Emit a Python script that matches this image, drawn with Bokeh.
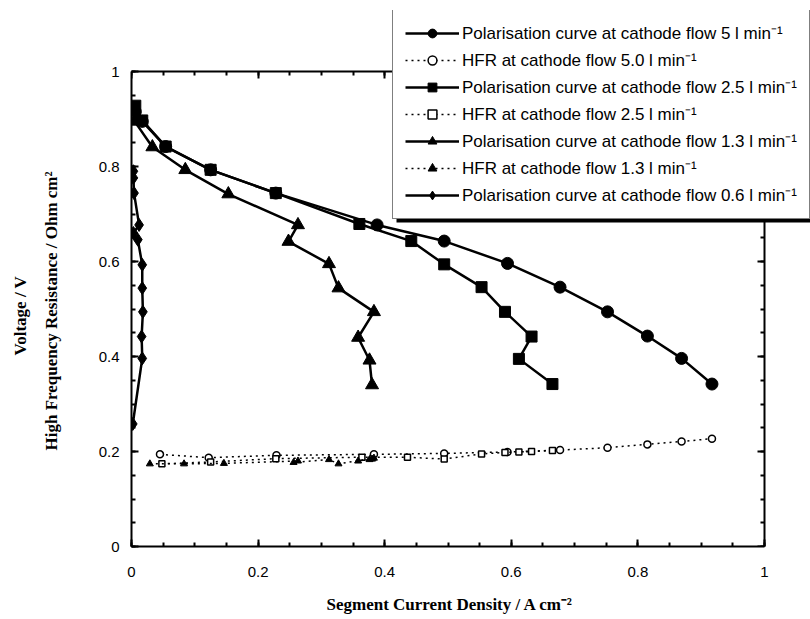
from bokeh.plotting import figure
from bokeh.models import (Legend, LegendItem, LinearAxis, FixedTicker, Range1d,
                          BoxAnnotation, Title)
from bokeh.embed import file_html
from bokeh.resources import INLINE

# ---------------- data ----------------
pol5_x = [0.006, 0.017, 0.054, 0.125, 0.228, 0.388, 0.494, 0.594, 0.677, 0.752, 0.815, 0.869, 0.917]
pol5_y = [0.915, 0.895, 0.842, 0.793, 0.744, 0.677, 0.643, 0.596, 0.546, 0.494, 0.443, 0.396, 0.342]

pol25_x = [0.006, 0.017, 0.054, 0.125, 0.228, 0.360, 0.442, 0.494, 0.553, 0.590, 0.632, 0.612, 0.665]
pol25_y = [0.928, 0.897, 0.842, 0.793, 0.744, 0.679, 0.643, 0.594, 0.546, 0.494, 0.442, 0.395, 0.342]

pol13_x = [0.005, 0.033, 0.085, 0.153, 0.263, 0.248, 0.312, 0.327, 0.383, 0.358, 0.376, 0.380]
pol13_y = [0.895, 0.841, 0.793, 0.742, 0.677, 0.642, 0.595, 0.544, 0.494, 0.440, 0.392, 0.340]

pol06_x = [0.003, 0.003, 0.004, 0.012, 0.003, 0.010, 0.017, 0.017, 0.018, 0.016, 0.017, 0.002]
pol06_y = [0.790, 0.776, 0.744, 0.677, 0.660, 0.646, 0.593, 0.544, 0.494, 0.442, 0.396, 0.258]

hfr5_x = [0.045, 0.122, 0.229, 0.383, 0.494, 0.594, 0.677, 0.752, 0.815, 0.869, 0.917]
hfr5_y = [0.194, 0.187, 0.192, 0.194, 0.196, 0.199, 0.203, 0.208, 0.215, 0.221, 0.227]

hfr25_x = [0.048, 0.125, 0.228, 0.364, 0.436, 0.494, 0.553, 0.590, 0.632, 0.612, 0.665]
hfr25_y = [0.174, 0.178, 0.185, 0.188, 0.188, 0.184, 0.195, 0.198, 0.200, 0.199, 0.202]

hfr13_x = [0.029, 0.083, 0.146, 0.263, 0.256, 0.312, 0.327, 0.383, 0.358, 0.376, 0.380]
hfr13_y = [0.174, 0.174, 0.175, 0.180, 0.177, 0.183, 0.174, 0.186, 0.180, 0.183, 0.184]

tick_values = [0, 0.2, 0.4, 0.6, 0.8, 1]
tick_labels = ["0", "0.2", "0.4", "0.6", "0.8", "1"]
minor_step = 0.05

x_title = "Segment Current Density / A cm\u207b\u00b2"
y_title_inner = "High Frequency Resistance / Ohm cm\u00b2"
y_title_outer = "Voltage / V"

labels = [
    "Polarisation curve at cathode flow 5 l min\u207b\u00b9",
    "HFR at cathode flow 5.0 l min\u207b\u00b9",
    "Polarisation curve at cathode flow 2.5 l min\u207b\u00b9",
    "HFR at cathode flow 2.5 l min\u207b\u00b9",
    "Polarisation curve at cathode flow 1.3 l min\u207b\u00b9",
    "HFR at cathode flow 1.3 l min\u207b\u00b9",
    "Polarisation curve at cathode flow 0.6 l min\u207b\u00b9",
]

# ---------------- layout (pixels) ----------------
W, H = 810, 619
FL, FR, FT, FB = 131, 810, 10, 546        # frame edges in canvas pixels
X0PX, X1PX = 131, 764                      # where x=0 and x=1 sit
Y0PX, Y1PX = 546, 71                       # where y=0 and y=1 sit
xmax = (FR - X0PX) / (X1PX - X0PX)
ymax = (Y0PX - FT) / (Y0PX - Y1PX)

p = figure(width=W, height=H, output_backend="svg", toolbar_location=None,
           x_range=Range1d(0, xmax), y_range=Range1d(0, ymax),
           min_border_left=FL, min_border_right=W - FR, min_border_top=FT,
           min_border_bottom=H - FB,
           x_axis_location=None, y_axis_location=None)
p.grid.visible = False
p.outline_line_color = None
p.background_fill_color = "white"
p.border_fill_color = "white"

sans = "Liberation Sans"
serif = "Liberation Serif"
minor = [round(i * minor_step, 2) for i in range(int(round(1 / minor_step)) + 1)]


def style_axis(ax, labels_on=True):
    ax.ticker = FixedTicker(ticks=tick_values, minor_ticks=minor)
    ax.bounds = (0, 1)
    ax.major_tick_in = 7
    ax.major_tick_out = 0
    ax.minor_tick_in = 4
    ax.minor_tick_out = 0
    ax.major_tick_line_width = 2
    ax.minor_tick_line_width = 2
    ax.major_tick_line_color = "black"
    ax.minor_tick_line_color = "black"
    ax.axis_line_width = 2
    ax.axis_line_color = "black"
    ax.major_label_text_font = sans
    ax.major_label_text_font_size = "15px"
    ax.major_label_text_color = "black"
    if labels_on:
        ax.major_label_overrides = {v: s for v, s in zip(tick_values, tick_labels)}
    else:
        ax.major_label_overrides = {v: "" for v in tick_values}
        ax.major_label_standoff = 0


def make_title(text, offset, standoff):
    t = Title(text=text, align="left", offset=offset, standoff=standoff)
    t.text_font = serif
    t.text_font_style = "bold"
    t.text_font_size = "17px"
    t.text_color = "black"
    return t


def spacer(width):
    # an axis with one invisible outward tick, used only to reserve room
    ax = LinearAxis(ticker=FixedTicker(ticks=[0.5], minor_ticks=[]))
    ax.axis_line_color = None
    ax.major_tick_line_color = "white"
    ax.major_tick_line_alpha = 0.0
    ax.minor_tick_line_color = None
    ax.major_tick_in = 0
    ax.major_tick_out = width
    ax.minor_tick_out = 0
    ax.major_label_standoff = 0
    ax.major_label_overrides = {0.5: ""}
    return ax


# bottom axis, spacer, title
xb = LinearAxis()
style_axis(xb)
xb.major_label_standoff = 20
p.add_layout(xb, "below")
p.add_layout(spacer(9), "below")
p.add_layout(make_title(x_title, 195, 8), "below")

# left axis, spacer, two titles
yl = LinearAxis()
style_axis(yl)
yl.major_label_standoff = 12
p.add_layout(yl, "left")
p.add_layout(spacer(33), "left")
p.add_layout(make_title(y_title_inner, 96, 4), "left")
p.add_layout(make_title(y_title_outer, 191, 16), "left")

# top and right borders with ticks, fixed at x=1 / y=1
xt = LinearAxis(fixed_location=1)
style_axis(xt, labels_on=False)
p.add_layout(xt, "above")
yr = LinearAxis(fixed_location=1)
style_axis(yr, labels_on=False)
p.add_layout(yr, "right")

# ---------------- series ----------------
LW = 2.5
items = []

l = p.line(pol5_x, pol5_y, line_color="black", line_width=LW)
s = p.scatter(pol5_x, pol5_y, marker="circle", size=12, color="black")
items.append(LegendItem(label=labels[0], renderers=[l, s]))

l = p.line(hfr5_x, hfr5_y, line_color="black", line_width=1.5, line_dash="2 4")
s = p.scatter(hfr5_x, hfr5_y, marker="circle", size=7, line_color="black",
              fill_color="white", line_width=1.5)
items.append(LegendItem(label=labels[1], renderers=[l, s]))

l = p.line(pol25_x, pol25_y, line_color="black", line_width=LW)
s = p.scatter(pol25_x, pol25_y, marker="square", size=11, color="black")
items.append(LegendItem(label=labels[2], renderers=[l, s]))

l = p.line(hfr25_x, hfr25_y, line_color="black", line_width=1.5, line_dash="2 4")
s = p.scatter(hfr25_x, hfr25_y, marker="square", size=6, line_color="black",
              fill_color="white", line_width=1.5)
items.append(LegendItem(label=labels[3], renderers=[l, s]))

l = p.line(pol13_x, pol13_y, line_color="black", line_width=LW)
s = p.scatter(pol13_x, pol13_y, marker="triangle", size=13, color="black")
items.append(LegendItem(label=labels[4], renderers=[l, s]))

l = p.line(hfr13_x, hfr13_y, line_color="black", line_width=1.5, line_dash="2 4")
s = p.scatter(hfr13_x, hfr13_y, marker="triangle", size=7, color="black")
items.append(LegendItem(label=labels[5], renderers=[l, s]))

l = p.line(pol06_x, pol06_y, line_color="black", line_width=LW)
s = p.scatter(pol06_x, pol06_y, marker="diamond", size=13, color="black")
items.append(LegendItem(label=labels[6], renderers=[l, s]))

# legend shadow (canvas pixels)
shadow = BoxAnnotation(left=396, right=812, top=21, bottom=222,
                       left_units="canvas", right_units="canvas",
                       top_units="canvas", bottom_units="canvas",
                       fill_color="black", fill_alpha=1.0, line_color=None)
p.add_layout(shadow)

legend = Legend(items=items, location=(392 - FL, FB - 219))
legend.border_line_color = "black"
legend.border_line_width = 1.5
legend.background_fill_color = "white"
legend.background_fill_alpha = 1.0
legend.label_text_font = sans
legend.label_text_font_size = "17px"
legend.label_text_color = "black"
legend.glyph_width = 54
legend.glyph_height = 22
legend.label_height = 22
legend.spacing = 4
legend.padding = 12
legend.margin = 0
legend.label_standoff = 3
p.add_layout(legend)

open("out.html", "w").write(file_html(p, INLINE))
